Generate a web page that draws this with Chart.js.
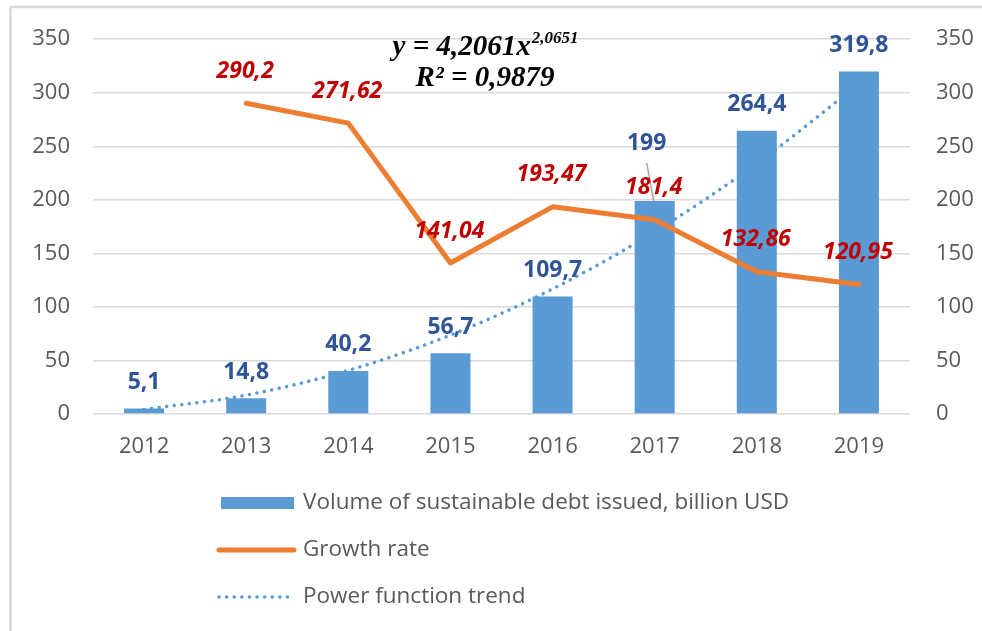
<!DOCTYPE html>
<html>
<head>
<meta charset="utf-8">
<script src="https://cdn.jsdelivr.net/npm/chart.js@4.4.0/dist/chart.umd.min.js"></script>
<style>
  html, body { margin: 0; padding: 0; background: #ffffff; }
  canvas { display: block; }
</style>
</head>
<body>
<canvas id="chart" width="982" height="631"></canvas>
<script>
// Sustainable debt issuance, 2012–2019
const years = ['2012', '2013', '2014', '2015', '2016', '2017', '2018', '2019'];
const debtVolume = [5.1, 14.8, 40.2, 56.7, 109.7, 199, 264.4, 319.8];
const growthRate = [null, 290.2, 271.62, 141.04, 193.47, 181.4, 132.86, 120.95];
const powerTrend = [4.2, 17.6, 40.7, 73.7, 116.8, 170.2, 233.9, 308.3];
const axisTicks = [0, 50, 100, 150, 200, 250, 300, 350];

const seriesNames = [
  'Volume of sustainable debt issued, billion USD',
  'Growth rate',
  'Power function trend'
];
const trendFormula = 'y = 4,2061x';
const trendExponent = '2,0651';
const trendFit = 'R\u00B2 = 0,9879';

const BAR_BLUE = '#5B9BD5';
const LINE_ORANGE = '#ED7D31';
const LABEL_BLUE = '#2F5597';
const LABEL_RED = '#C00000';
const TICK_GREY = '#595959';
const GRID_GREY = '#D9D9D9';
const SANS = '"Open Sans", "Liberation Sans", sans-serif';

const fmt = v => String(v).replace('.', ',');

function useTicks(scale) {
  scale.ticks = axisTicks.map(v => ({ value: v }));
}

// white background and the frame around the chart
const framePlugin = {
  id: 'frame',
  beforeDraw(chart) {
    const ctx = chart.ctx;
    ctx.save();
    ctx.fillStyle = '#ffffff';
    ctx.fillRect(0, 0, chart.width, chart.height);
    ctx.strokeStyle = GRID_GREY;
    ctx.lineWidth = 2.5;
    ctx.strokeRect(10.5, 7, chart.width + 20, chart.height + 20);
    ctx.restore();
  }
};

// value labels, trend equation and the vertical legend
const annotatePlugin = {
  id: 'annotate',
  afterDatasetsDraw(chart) {
    const ctx = chart.ctx;
    ctx.save();
    ctx.textAlign = 'center';
    ctx.textBaseline = 'middle';

    // bar values
    const barMeta = chart.getDatasetMeta(0);
    const moved = { 5: { dx: -8, dy: -57 } };
    ctx.font = 'bold 23px ' + SANS;
    barMeta.data.forEach((el, i) => {
      const off = moved[i] || { dx: 0, dy: -26 };
      const lx = el.x + off.dx, ly = el.y + off.dy;
      if (moved[i]) {
        ctx.strokeStyle = '#A6A6A6';
        ctx.lineWidth = 1.5;
        ctx.beginPath();
        ctx.moveTo(lx, ly + 19);
        ctx.lineTo(el.x - 1, el.y);
        ctx.stroke();
      }
      ctx.fillStyle = LABEL_BLUE;
      ctx.fillText(fmt(chart.data.datasets[0].data[i]), lx, ly);
    });

    // growth rate values
    const lineMeta = chart.getDatasetMeta(1);
    ctx.font = 'italic bold 23px ' + SANS;
    ctx.fillStyle = LABEL_RED;
    lineMeta.data.forEach((el, i) => {
      const v = chart.data.datasets[1].data[i];
      if (v === null) return;
      ctx.fillText(fmt(v), el.x - 1, el.y - 32);
    });

    // trend equation
    ctx.fillStyle = '#000000';
    ctx.textBaseline = 'alphabetic';
    ctx.font = 'italic bold 29px "Liberation Serif", serif';
    const w1 = ctx.measureText(trendFormula).width;
    ctx.font = 'italic bold 17px "Liberation Serif", serif';
    const w2 = ctx.measureText(trendExponent).width;
    const cx = 485;
    const startX = cx - (w1 + w2) / 2;
    ctx.textAlign = 'left';
    ctx.font = 'italic bold 29px "Liberation Serif", serif';
    ctx.fillText(trendFormula, startX, 55);
    ctx.font = 'italic bold 17px "Liberation Serif", serif';
    ctx.fillText(trendExponent, startX + w1 + 1, 43);
    ctx.textAlign = 'center';
    ctx.font = 'italic bold 29px "Liberation Serif", serif';
    ctx.fillText(trendFit, cx, 86);

    ctx.restore();
  },
  afterDraw(chart) {
    const ctx = chart.ctx;
    ctx.save();
    const rows = [503, 550, 597];
    const symLeft = 219, symRight = 294, textX = 303;
    chart.data.datasets.forEach((ds, i) => {
      const y = rows[i];
      if (ds.type === 'bar') {
        ctx.fillStyle = ds.backgroundColor;
        ctx.fillRect(symLeft + 2, y - 6, symRight - symLeft - 2, 12);
      } else {
        ctx.strokeStyle = ds.borderColor;
        ctx.lineWidth = ds.borderWidth;
        ctx.lineCap = 'round';
        ctx.setLineDash(ds.borderDash || []);
        ctx.beginPath();
        ctx.moveTo(symLeft, y);
        ctx.lineTo(ds.borderDash ? symRight - 5 : symRight, y);
        ctx.stroke();
        ctx.setLineDash([]);
      }
      ctx.fillStyle = TICK_GREY;
      ctx.font = '22.5px ' + SANS;
      ctx.textAlign = 'left';
      ctx.textBaseline = 'middle';
      ctx.fillText(ds.label, textX, y);
    });
    ctx.restore();
  }
};

new Chart(document.getElementById('chart'), {
  data: {
    labels: years,
    datasets: [
      {
        type: 'bar',
        label: seriesNames[0],
        data: debtVolume,
        backgroundColor: BAR_BLUE,
        yAxisID: 'y',
        order: 1,
        categoryPercentage: 1,
        barPercentage: 0.392
      },
      {
        type: 'line',
        label: seriesNames[1],
        data: growthRate,
        borderColor: LINE_ORANGE,
        backgroundColor: LINE_ORANGE,
        borderWidth: 5,
        borderJoinStyle: 'round',
        borderCapStyle: 'round',
        pointRadius: 0,
        tension: 0,
        yAxisID: 'y1',
        order: 0
      },
      {
        type: 'line',
        label: seriesNames[2],
        data: powerTrend,
        borderColor: BAR_BLUE,
        backgroundColor: BAR_BLUE,
        borderWidth: 3.5,
        borderDash: [0.1, 7.5],
        borderCapStyle: 'round',
        pointRadius: 0,
        cubicInterpolationMode: 'monotone',
        yAxisID: 'y',
        order: 2
      }
    ]
  },
  options: {
    responsive: false,
    devicePixelRatio: 1,
    animation: false,
    layout: { padding: { top: 37, bottom: 157, left: 0, right: 0 } },
    plugins: {
      legend: { display: false },
      tooltip: { enabled: false }
    },
    scales: {
      x: {
        grid: { display: false },
        border: { display: false },
        ticks: { color: TICK_GREY, font: { family: SANS, size: 22 }, padding: 12, maxRotation: 0 },
        afterFit(s) { s.height = 60; }
      },
      y: {
        position: 'left',
        min: 0,
        max: 350,
        afterBuildTicks: useTicks,
        grid: { color: GRID_GREY, lineWidth: 1.5, drawTicks: false },
        border: { display: false },
        ticks: { color: TICK_GREY, font: { family: SANS, size: 22 }, padding: 23 },
        afterFit(s) { s.width = 93; }
      },
      y1: {
        position: 'right',
        min: 0,
        max: 350,
        afterBuildTicks: useTicks,
        grid: { display: false, drawTicks: false },
        border: { display: false },
        ticks: { color: TICK_GREY, font: { family: SANS, size: 22 }, padding: 26 },
        afterFit(s) { s.width = 72; }
      }
    }
  },
  plugins: [framePlugin, annotatePlugin]
});
</script>
</body>
</html>
